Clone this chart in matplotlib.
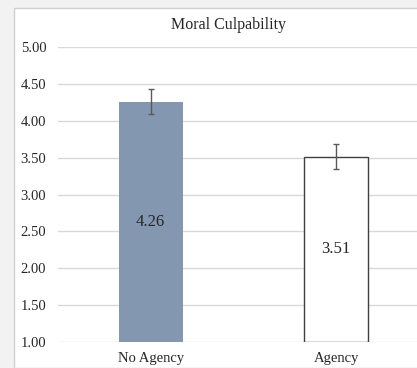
import numpy as np
import matplotlib.pyplot as plt
from matplotlib.patches import Rectangle

# data
categories = ["No Agency", "Agency"]
means = [4.26, 3.51]
errors = [0.17, 0.17]
value_labels = ["4.26", "3.51"]
yticks = [1.00, 1.50, 2.00, 2.50, 3.00, 3.50, 4.00, 4.50, 5.00]

plt.rcParams['font.family'] = ['Liberation Serif', 'DejaVu Serif']

fig = plt.figure(figsize=(4.17, 3.68), dpi=100)
fig.patch.set_facecolor('#f2f2f2')

# white chart panel (Excel style) with light border
panel = Rectangle((14 / 417, 0), 1.0, 1 - 7.5 / 368, transform=fig.transFigure,
                  facecolor='white', edgecolor='#d0d0d0', linewidth=1.0, zorder=-10)
fig.patches.append(panel)

ax = fig.add_axes([58 / 417, 26 / 368, 371 / 417, 295 / 368])
ax.set_facecolor('none')

x = np.arange(len(categories))
base = 1.0
heights = [m - base for m in means]
ax.bar(x, heights, bottom=base, width=0.345,
       color=['#8497b0', 'white'], edgecolor=['#8497b0', '#404040'],
       linewidth=[0, 1.0], zorder=2)
ax.errorbar(x, means, yerr=errors, fmt='none', ecolor='#595959',
            elinewidth=1.0, capsize=2, capthick=1.0, zorder=3)

for xi, m, lab in zip(x, means, value_labels):
    ax.text(xi, (base + m) / 2, lab, ha='center', va='center',
            fontsize=12, color='#262626', zorder=4)

ax.set_xlim(-0.5, 1.5)
ax.set_ylim(1.0, 5.0)
ax.set_yticks(yticks)
ax.set_yticklabels([f"{v:.2f}" for v in yticks], fontsize=10.5, color='#262626')
ax.set_xticks(x)
ax.set_xticklabels(categories, fontsize=10.5, color='#262626')
ax.tick_params(axis='both', length=0)
ax.tick_params(axis='y', pad=8.5)
ax.tick_params(axis='x', pad=7)
ax.grid(axis='y', color='#d9d9d9', linewidth=1.0, zorder=0)
ax.set_axisbelow(True)
for s in ax.spines.values():
    s.set_visible(False)

fig.text(228 / 417, 1 - 25 / 368, "Moral Culpability", ha='center', va='center',
         fontsize=11.5, color='#262626')

fig.savefig('out.png', dpi=100, facecolor=fig.get_facecolor())
